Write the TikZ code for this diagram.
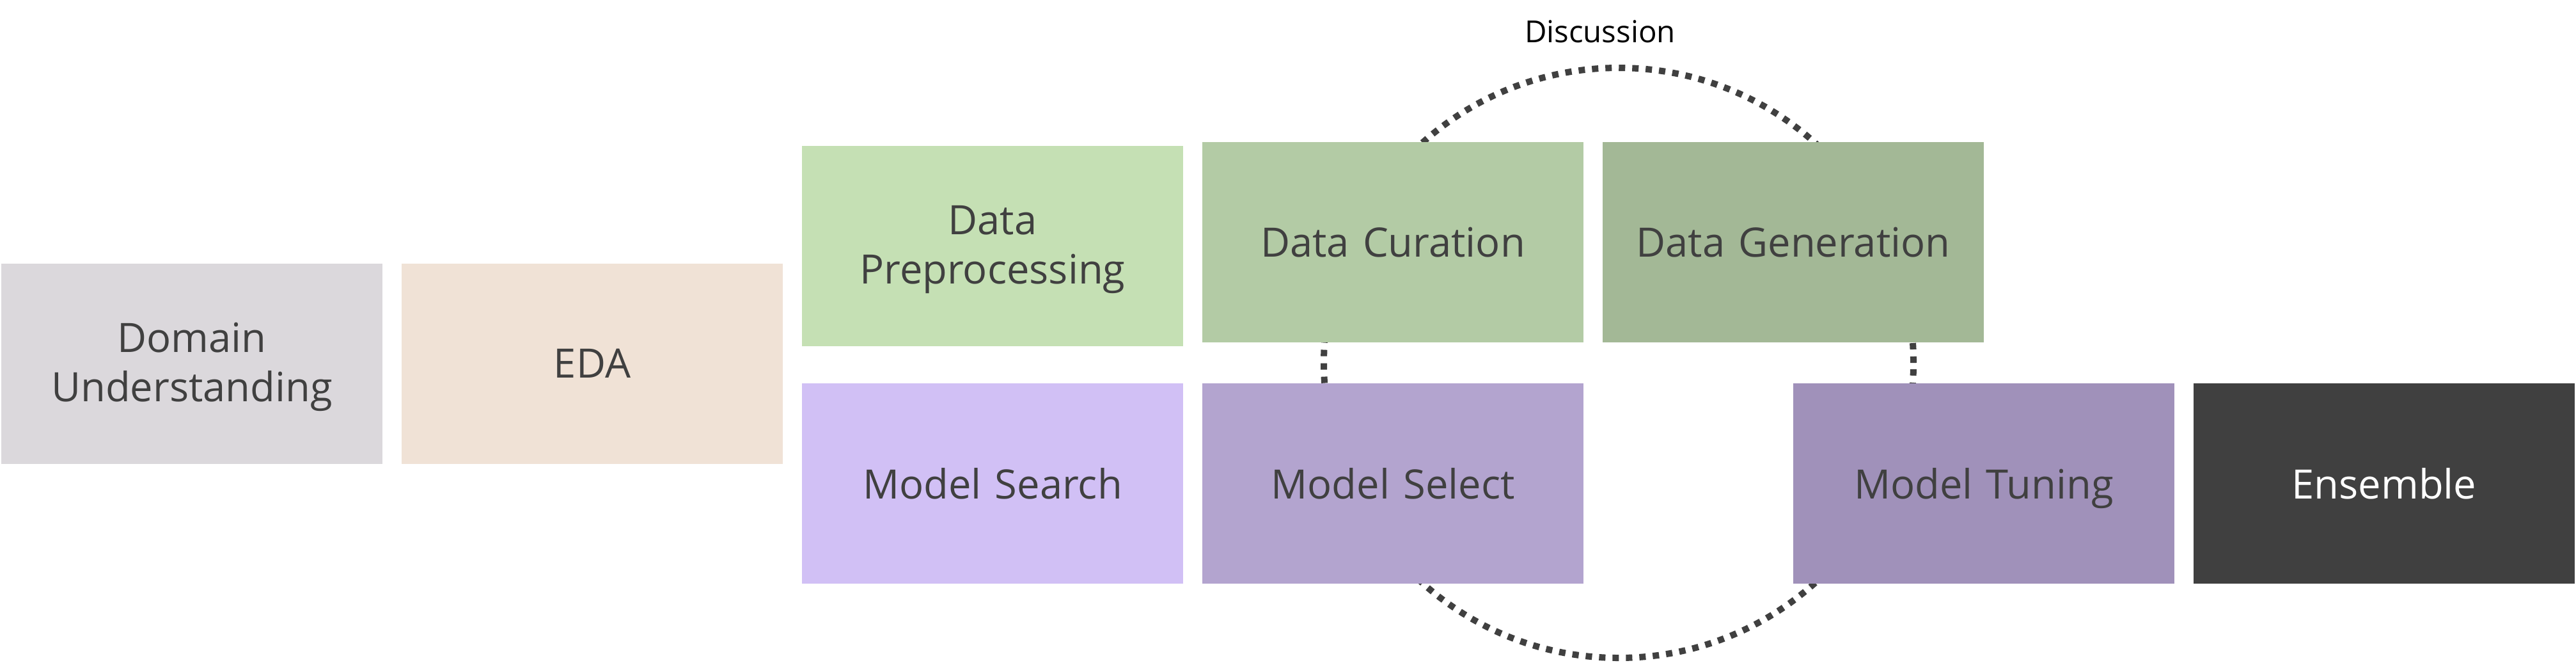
\documentclass[tikz,border=0pt]{standalone}
\usepackage{fontspec}
\setmainfont{Open Sans}
\usepackage{xcolor}
\usetikzlibrary{positioning, backgrounds}

\definecolor{inkgray}{HTML}{404040}
\definecolor{domfill}{HTML}{DBD8DC}
\definecolor{edafill}{HTML}{F0E2D6}
\definecolor{prepfill}{HTML}{C5E0B4}
\definecolor{curfill}{HTML}{B3CBA5}
\definecolor{genfill}{HTML}{A3B896}
\definecolor{searchfill}{HTML}{D1C0F5}
\definecolor{selectfill}{HTML}{B3A4CF}
\definecolor{tunefill}{HTML}{A091BA}
\definecolor{ensfill}{HTML}{404040}

\begin{document}
\begin{tikzpicture}[
    node distance=0.3cm,
    stage/.style={
        rectangle,
        draw=none,
        text=inkgray,
        text width=5.6cm,
        align=center,
        minimum width=5.96cm,
        minimum height=3.13cm,
        inner sep=0pt,
        outer sep=0pt,
        text depth=0pt,
        font=\fontsize{18}{21.9}\selectfont
    },
    twoline/.style={text depth=23pt},
    loopline/.style={
        draw=inkgray,
        line width=0.1cm,
        dash pattern=on 0.1cm off 0.11cm
    },
    caption/.style={font=\fontsize{13.5}{16}\selectfont, text=black}
]
    \useasboundingbox (0,0) rectangle (40.28,-10.35);

    % First steps, side by side
    \node [stage, twoline, fill=domfill] (domain) at (3.0,-5.68) {Domain\\Understanding};
    \node [stage, fill=edafill, right=of domain] (eda) {EDA};

    % Data branch on the top row
    \node [stage, twoline, fill=prepfill, right=of eda, yshift=1.835cm] (prep) {Data\\Preprocessing};
    \node [stage, fill=curfill, right=of prep, yshift=0.06cm] (curation) {Data Curation};
    \node [stage, fill=genfill, right=of curation] (generation) {Data Generation};

    % Model branch on the bottom row
    \node [stage, fill=searchfill, below=0.58cm of prep] (search) {Model Search};
    \node [stage, fill=selectfill, below=0.64cm of curation] (select) {Model Select};
    \node [stage, fill=tunefill, right=3.28cm of select] (tuning) {Model Tuning};
    \node [stage, fill=ensfill, text=white, right=of tuning] (ensemble) {Ensemble};

    % Discussion loop, mostly hidden behind the boxes
    \coordinate (hub) at (25.31,-5.67);
    \node [caption] (discussion) at (25.02,-0.49) {Discussion};

    \begin{scope}[on background layer]
        \draw [loopline] (hub) circle (4.61cm);
    \end{scope}

\end{tikzpicture}
\end{document}
